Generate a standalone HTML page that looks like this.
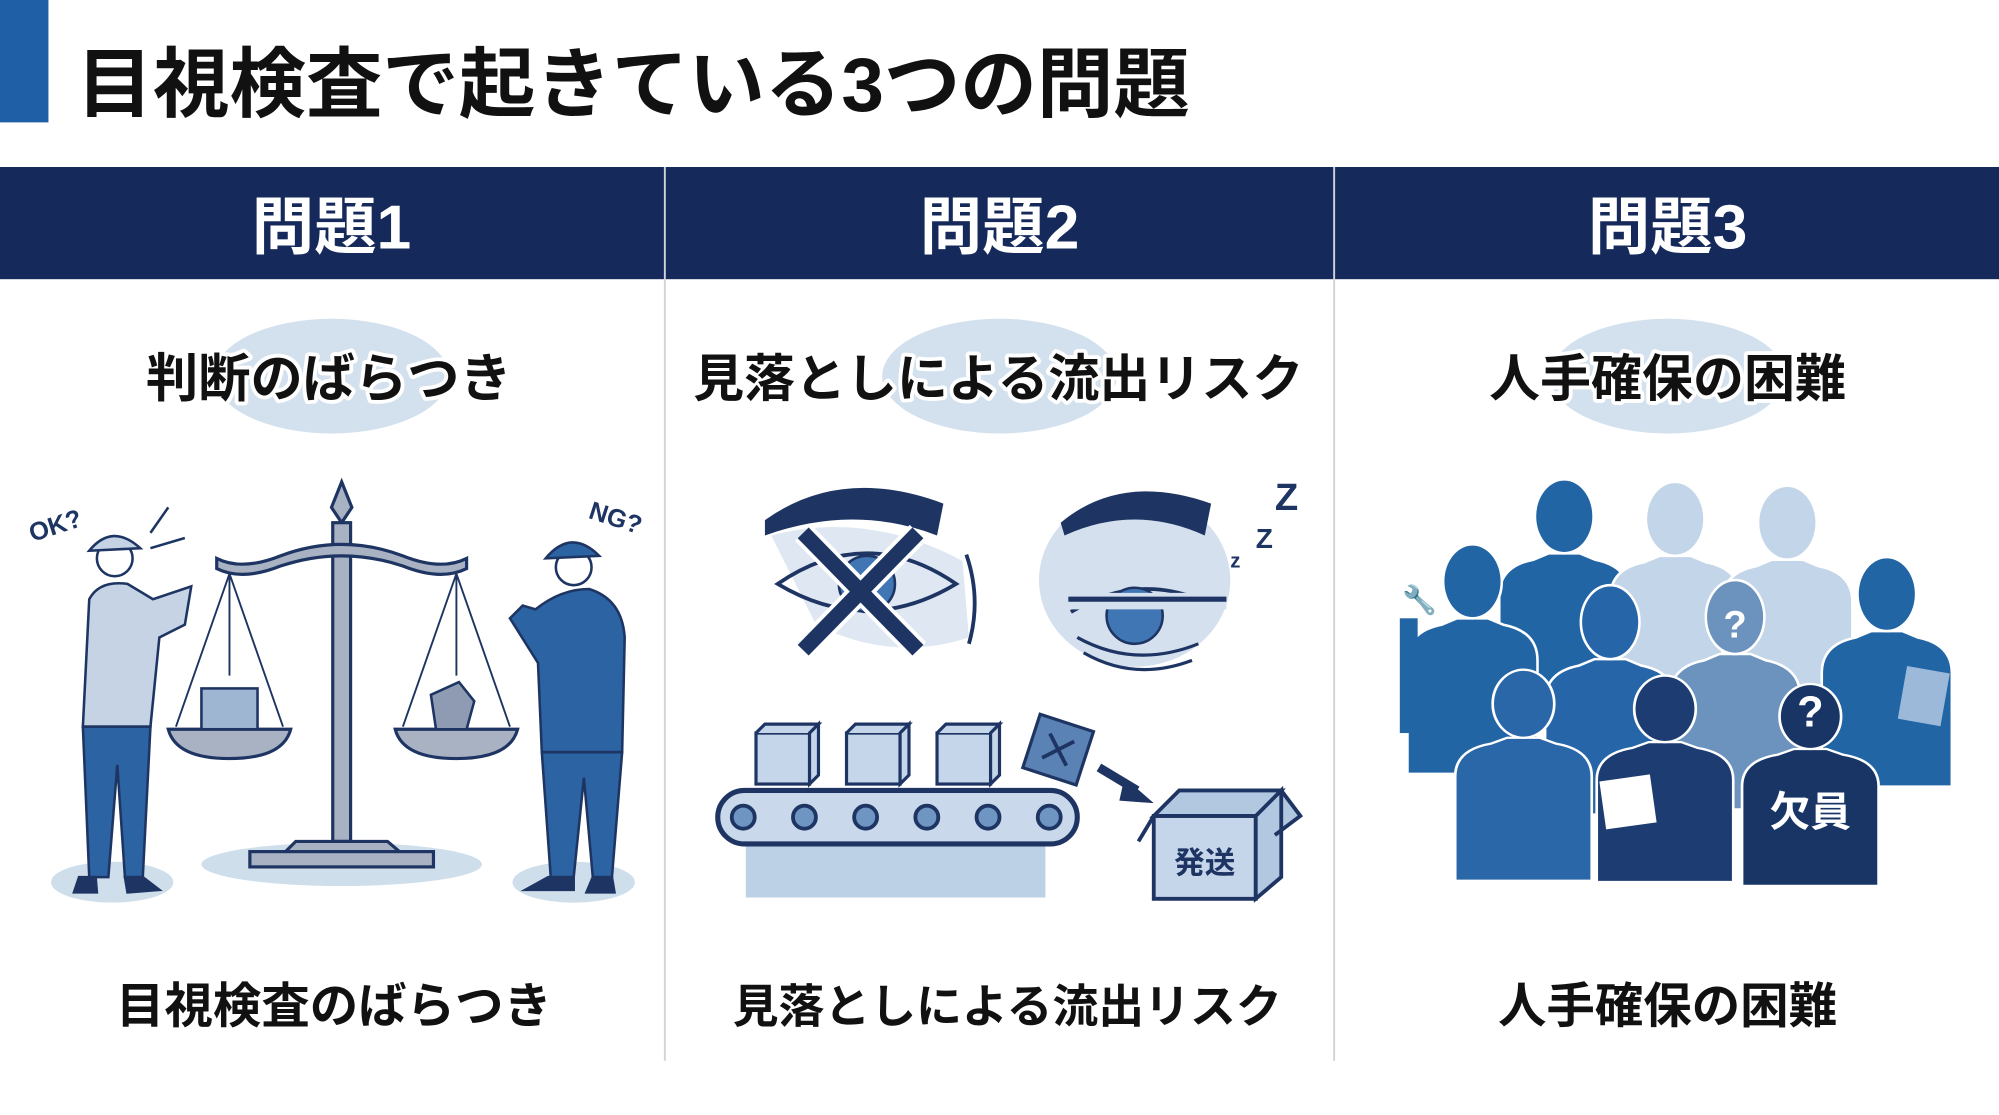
<!DOCTYPE html>
<html><head><meta charset="utf-8"><style>
html,body{margin:0;padding:0;background:#fff;}
svg{display:block;}
text{font-family:"Liberation Sans","Noto Sans CJK JP",sans-serif;font-weight:bold;}
</style></head><body>
<svg width="1999" height="1115" viewBox="0 0 1568 874.6" xmlns="http://www.w3.org/2000/svg">
<defs>
<g id="p"><path d="M-50,150 L-50,62 Q-50,40 -24,35 L-12,30 L12,30 L24,35 Q50,40 50,62 L50,150 Z"/><ellipse cx="0" cy="0" rx="22" ry="28"/></g>
</defs>
<rect width="1568" height="875" fill="#fff"/>
<rect x="0" y="0" width="38" height="96" fill="#1f5fa6"/>
<text x="60" y="87" font-size="60" fill="#111">目視検査で起きている3つの問題</text>
<rect x="0" y="131" width="1568" height="88" fill="#15295b"/>
<line x1="521.5" y1="131" x2="521.5" y2="832" stroke="#d0d4da" stroke-width="1.5"/>
<line x1="1046.5" y1="131" x2="1046.5" y2="832" stroke="#d0d4da" stroke-width="1.5"/>
<g font-size="49" fill="#fff" text-anchor="middle">
<text x="260" y="195">問題1</text><text x="784" y="195">問題2</text><text x="1308" y="195">問題3</text></g>
<g fill="#d3e1ee"><ellipse cx="260" cy="295" rx="92" ry="45"/><ellipse cx="784" cy="295" rx="92" ry="45"/><ellipse cx="1308" cy="295" rx="92" ry="45"/></g>
<g font-size="40" text-anchor="middle" fill="#111" stroke="#fff" stroke-width="6" paint-order="stroke" stroke-linejoin="round">
<text x="258" y="311" font-size="41">判断のばらつき</text><text x="783" y="311">見落としによる流出リスク</text><text x="1308" y="311">人手確保の困難</text></g>
<g font-size="38" text-anchor="middle" fill="#111">
<text x="262" y="802">目視検査のばらつき</text><text x="790" y="802" font-size="36">見落としによる流出リスク</text><text x="1308" y="802">人手確保の困難</text></g>

<!-- column 1 -->
<ellipse cx="268" cy="678" rx="110" ry="17" fill="#cfdeeb"/>
<ellipse cx="88" cy="692" rx="48" ry="16" fill="#cfdeeb"/>
<ellipse cx="450" cy="692" rx="48" ry="16" fill="#cfdeeb"/>
<g stroke="#1e3563" stroke-width="2.5" fill="#a9b2c3">
<path d="M268,378 L276,398 L268,410 L260,398 Z"/>
<rect x="261" y="410" width="14" height="250"/>
<path d="M170,438 Q190,448 220,436 Q268,418 316,436 Q346,448 366,438 L366,446 Q346,456 316,444 Q268,428 220,444 Q190,456 170,446 Z"/>
<path d="M232,660 L304,660 L318,672 L220,672 Z"/>
<rect x="196" y="668" width="144" height="12"/>
<path d="M132,572 L228,572 Q222,595 180,595 Q138,595 132,572 Z"/>
<path d="M310,572 L406,572 Q400,595 358,595 Q316,595 310,572 Z"/>
</g>
<g stroke="#1e3563" stroke-width="1.5" fill="none">
<path d="M180,450 L138,570 M180,450 L222,570 M180,450 L180,530 M358,450 L316,570 M358,450 L400,570 M358,450 L358,530"/>
</g>
<rect x="158" y="540" width="44" height="32" fill="#9fb6d3" stroke="#1e3563" stroke-width="2"/>
<path d="M338,545 L360,535 L372,550 L366,572 L342,572 Z" fill="#8e9bb3" stroke="#1e3563" stroke-width="2"/>
<g stroke="#1e3563" stroke-width="2">
<path d="M70,470 Q78,455 100,458 L120,470 L150,460 L145,490 L125,500 L118,570 L65,570 Z" fill="#c6d3e5"/>
<path d="M65,570 L118,570 L112,688 L98,688 L92,600 L85,688 L70,688 Z" fill="#2b63a3"/>
<circle cx="90" cy="438" r="14" fill="#fff"/>
<path d="M70,432 Q88,410 110,430 Z" fill="#c6d3e5"/>
<path d="M62,688 L75,688 L76,700 L58,700 Z M98,688 L112,688 L125,698 L100,700 Z" fill="#1e3563"/>
</g>
<g stroke="#1e3563" stroke-width="2">
<path d="M420,478 Q440,462 462,462 Q488,470 490,500 L488,590 L425,590 L422,520 L400,485 L410,475 Z" fill="#2b63a3"/>
<path d="M425,590 L488,590 L480,688 L465,688 L458,610 L450,688 L432,688 Z" fill="#2b63a3"/>
<circle cx="450" cy="445" r="14" fill="#fff"/>
<path d="M428,438 Q448,414 470,436 Z" fill="#2b63a3"/>
<path d="M430,688 L450,688 L450,698 L412,698 Z M465,688 L480,688 L482,700 L460,700 Z" fill="#1e3563"/>
</g>
<text x="22" y="420" font-size="20" fill="#1e3563" transform="rotate(-18 40 412)">OK?</text>
<text x="462" y="412" font-size="20" fill="#1e3563" transform="rotate(18 480 405)">NG?</text>
<path d="M118,418 L132,398 M118,430 L145,422" stroke="#1e3563" stroke-width="2"/>

<!-- column 2 eyes -->
<path d="M600,408 Q660,365 740,395 L735,420 Q670,395 600,420 Z" fill="#1e3563"/>
<path d="M605,420 Q680,400 755,440 L760,500 Q700,520 640,490 Z" fill="#dfe8f2"/>
<path d="M610,458 Q680,410 750,458 Q680,500 610,458 Z" fill="none" stroke="#1e3563" stroke-width="3"/>
<circle cx="680" cy="458" r="22" fill="#3f76b3" stroke="#1e3563" stroke-width="2"/>
<path d="M758,435 Q770,470 760,505" fill="none" stroke="#1e3563" stroke-width="3"/>
<path d="M630,418 L720,510 M720,418 L630,510" stroke="#fff" stroke-width="18"/>
<path d="M630,418 L720,510 M720,418 L630,510" stroke="#1e3563" stroke-width="12"/>
<ellipse cx="890" cy="455" rx="75" ry="68" fill="#d4e0ee"/>
<path d="M832,410 Q880,370 950,395 L945,420 Q890,395 835,420 Z" fill="#1e3563"/>
<path d="M840,480 Q890,450 940,470" fill="none" stroke="#1e3563" stroke-width="3"/>
<circle cx="890" cy="483" r="22" fill="#3f76b3" stroke="#1e3563" stroke-width="2"/>
<path d="M838,465 L962,465 L962,478 L838,478 Z" fill="#d4e0ee"/>
<path d="M838,470 L962,470" stroke="#1e3563" stroke-width="4"/>
<path d="M845,500 Q890,525 940,505 M850,512 Q890,535 935,518" fill="none" stroke="#1e3563" stroke-width="2.5"/>
<text x="1000" y="400" font-size="30" fill="#1e3563">Z</text>
<text x="985" y="430" font-size="22" fill="#1e3563">Z</text>
<text x="965" y="445" font-size="16" fill="#1e3563">z</text>
<rect x="585" y="660" width="235" height="44" fill="#bcd0e6"/>
<rect x="563" y="620" width="282" height="42" rx="21" fill="#c9d8ea" stroke="#1e3563" stroke-width="4"/>
<g fill="#6f96c3" stroke="#1e3563" stroke-width="3">
<circle cx="583" cy="641" r="9"/><circle cx="631" cy="641" r="9"/><circle cx="679" cy="641" r="9"/><circle cx="727" cy="641" r="9"/><circle cx="775" cy="641" r="9"/><circle cx="823" cy="641" r="9"/></g>
<g fill="#c5d6ea" stroke="#1e3563" stroke-width="2.5">
<rect x="593" y="575" width="42" height="40"/><rect x="664" y="575" width="42" height="40"/><rect x="735" y="575" width="42" height="40"/>
<path d="M593,575 L600,568 L642,568 L635,575 M635,575 L642,568 L642,608 L635,615 Z"/>
<path d="M664,575 L671,568 L713,568 L706,575 M706,575 L713,568 L713,608 L706,615 Z"/>
<path d="M735,575 L742,568 L784,568 L777,575 M777,575 L784,568 L784,608 L777,615 Z"/>
</g>
<g transform="rotate(18 830 588)"><rect x="808" y="566" width="44" height="44" fill="#5b82b5" stroke="#1e3563" stroke-width="2.5"/><path d="M820,578 L840,598 M840,578 L820,598" stroke="#1e3563" stroke-width="3"/></g>
<path d="M862,602 L892,620" stroke="#1e3563" stroke-width="7"/>
<path d="M882,610 L905,630 L878,628 Z" fill="#1e3563"/>
<path d="M905,640 L985,640 L985,705 L905,705 Z" fill="#c5d6ea" stroke="#1e3563" stroke-width="3"/>
<path d="M985,640 L1005,620 L1005,688 L985,705 Z M905,640 L925,620 L1005,620 L985,640 Z M1005,620 L1020,640 L1000,655 M905,640 L893,660" fill="#b2c7e0" stroke="#1e3563" stroke-width="3"/>
<text x="945" y="685" font-size="24" text-anchor="middle" fill="#1e3563">発送</text>

<g stroke="#fff" stroke-width="4" paint-order="stroke">
<use href="#p" transform="translate(1227,405)" fill="#2265a5"/>
<use href="#p" transform="translate(1314,407)" fill="#c3d5e8"/>
<use href="#p" transform="translate(1402,410)" fill="#c3d5e8"/>
<use href="#p" transform="translate(1155,456)" fill="#2265a5"/>
<use href="#p" transform="translate(1480,466)" fill="#2265a5"/>
<use href="#p" transform="translate(1263,488)" fill="#2565a8"/>
<use href="#p" transform="translate(1361,484)" fill="#6b93bd"/>
<use href="#p" transform="translate(1195,552) scale(1.05,0.92)" fill="#2a67a8"/>
<use href="#p" transform="translate(1420,562) scale(1.05,0.88)" fill="#183566"/>
<use href="#p" transform="translate(1306,556) scale(1.05,0.9)" fill="#1d3c72"/>
</g>
<rect x="1098" y="485" width="14" height="90" fill="#2265a5"/>
<text x="1100" y="478" font-size="22" fill="#2265a5">🔧</text>
<rect x="1492" y="525" width="34" height="42" fill="#9db9d9" transform="rotate(10 1509 546)"/>
<text x="1361" y="500" font-size="30" text-anchor="middle" fill="#fff">?</text>
<text x="1420" y="570" font-size="34" text-anchor="middle" fill="#fff">?</text>
<text x="1420" y="648" font-size="32" text-anchor="middle" fill="#fff">欠員</text>
<rect x="1257" y="610" width="40" height="38" fill="#fff" transform="rotate(-8 1277 629)"/>
</svg>
</body></html>
